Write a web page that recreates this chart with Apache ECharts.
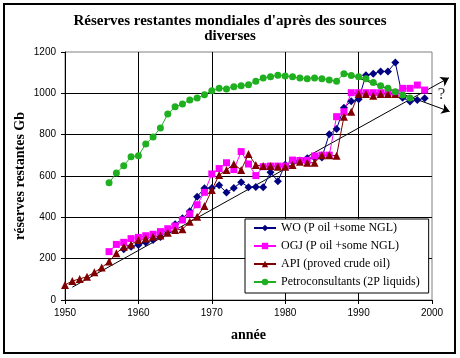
<!DOCTYPE html>
<html><head><meta charset="utf-8">
<script src="https://cdn.jsdelivr.net/npm/echarts@6/dist/echarts.min.js"></script>
<style>html,body{margin:0;padding:0;background:#fff}#c{width:460px;height:358px}</style>
</head><body><div id="c"></div>
<script>
const years = [1950,1951,1952,1953,1954,1955,1956,1957,1958,1959,
               1960,1961,1962,1963,1964,1965,1966,1967,1968,1969,
               1970,1971,1972,1973,1974,1975,1976,1977,1978,1979,
               1980,1981,1982,1983,1984,1985,1986,1987,1988,1989,
               1990,1991,1992,1993,1994,1995,1996,1997,1998,1999];
const woValues = [null,null,null,null,null,null,null,null,
  245,258,266,278,290,305,330,366,395,430,
  500,541,542,555,520,542,570,546,547,546,
  618,575,655,670,675,686,688,690,802,828,
  930,962,971,1088,1095,1106,1106,1149,979,960,
  968,976];
const ogjValues = [null,null,null,null,null,null,
  234,269,279,297,303,311,318,331,345,358,
  387,417,461,521,610,636,664,631,718,658,
  602,645,648,648,648,677,675,676,697,701,
  701,887,911,1003,1003,1003,1003,1003,1003,1003,
  1024,1024,1040,1016];
const apiValues = [73,92,102,113,134,157,186,226,258,269,
  290,298,306,312,326,339,342,379,403,455,
  532,605,629,658,629,706,653,648,648,645,
  645,653,669,664,664,701,701,698,887,911,
  997,997,988,997,997,997,null,null,null,null];
const petroValues = [null,null,null,null,null,null,
  567,614,650,693,698,755,789,832,900,935,
  948,968,977,993,1013,1025,1021,1032,1037,1042,
  1059,1074,1080,1088,1084,1080,1074,1071,1074,1071,
  1064,1059,1095,1086,1080,1070,1053,1037,1024,1008,
  992,978,null,null];
const seriesNames = ['WO (P oil +some NGL)','OGJ (P oil +some NGL)','API (proved crude oil)','Petroconsultants (2P liquids)'];
const trendUp = [[1951, 62], [2002.3, 1075]];
const trendDown = [[1988, 1100], [2002.4, 912]];
const questionMark = [[2001.3, 992]];
const xTicks = [1950, 2000, 10];
const yTicks = [0, 1200, 200];

function pairs(vals){ const out=[]; years.forEach((y,i)=>{ if(vals[i]!=null) out.push([y, vals[i]]); }); return out; }

const serif = 'Liberation Serif';
const sans = 'Liberation Sans';
const chart = echarts.init(document.getElementById('c'), null, {renderer:'canvas'});

function lineSeries(name, vals, color, symbol, size){
  return {name:name, type:'line', data:pairs(vals), symbol:symbol, symbolSize:size,
    showAllSymbol:true, lineStyle:{color:color, width:1}, itemStyle:{color:color},
    animation:false};
}

chart.setOption({
  animation:false,
  backgroundColor:'#fff',
  title:{text:"Réserves restantes mondiales d'après des sources\ndiverses", left:'center', top:14, padding:0,
    textStyle:{fontFamily:serif, fontWeight:'bold', fontSize:15, lineHeight:15, color:'#000'}},
  grid:{left:65, right:28, top:52, bottom:58, show:true, borderColor:'#808080', borderWidth:1, backgroundColor:'transparent', containLabel:false, outerBoundsMode:'none'},
  legend:{orient:'vertical', left:245, top:219, data:seriesNames, backgroundColor:'#fff', borderColor:'#000', borderWidth:1,
    padding:[2,9,4,8], itemGap:4, itemWidth:22, itemHeight:8,
    textStyle:{fontFamily:serif, fontSize:12, lineHeight:14, color:'#000'}},
  xAxis:{type:'value', min:xTicks[0], max:xTicks[1], interval:xTicks[2], name:'année', nameLocation:'middle', nameGap:28, nameMoveOverlap:false,
    nameTextStyle:{fontFamily:serif, fontWeight:'bold', fontSize:14, color:'#000'},
    axisLine:{show:true, lineStyle:{color:'#000', width:1}},
    axisTick:{show:true, length:4, lineStyle:{color:'#000'}},
    axisLabel:{fontFamily:sans, fontSize:10, color:'#000', margin:8, formatter:(v)=>String(v)},
    splitLine:{show:true, showMinLine:false, showMaxLine:false, lineStyle:{color:'#000', width:1}}},
  yAxis:{type:'value', min:yTicks[0], max:yTicks[1], interval:yTicks[2], name:'réserves restantes Gb', nameLocation:'middle', nameGap:38, nameMoveOverlap:false,
    nameTextStyle:{fontFamily:serif, fontWeight:'bold', fontSize:14, color:'#000'},
    axisLine:{show:true, lineStyle:{color:'#000', width:1}},
    axisTick:{show:true, length:4, lineStyle:{color:'#000'}},
    axisLabel:{fontFamily:sans, fontSize:10, color:'#000', margin:9, formatter:(v)=>String(v)},
    splitLine:{show:true, showMinLine:false, showMaxLine:false, lineStyle:{color:'#000', width:1}}},
  graphic:[{type:'rect', shape:{x:4, y:4, width:451, height:349}, style:{fill:'none', stroke:'#000', lineWidth:2}, silent:true, z:100}],
  series:[
    {type:'lines', coordinateSystem:'cartesian2d', clip:false, silent:true, symbol:['none','arrow'], symbolSize:8,
      lineStyle:{color:'#000', width:1, opacity:1}, data:[{coords:trendUp},{coords:trendDown}], animation:false},
    lineSeries(seriesNames[0], woValues, '#000080', 'diamond', 8),
    lineSeries(seriesNames[1], ogjValues, '#ff00ff', 'rect', 7),
    lineSeries(seriesNames[2], apiValues, '#800000', 'triangle', 8),
    lineSeries(seriesNames[3], petroValues, '#1fb01f', 'circle', 7),
    {type:'scatter', data:questionMark, symbolSize:0, clip:false, silent:true, itemStyle:{color:'rgba(0,0,0,0)'},
      label:{show:true, formatter:'?', position:'inside', fontFamily:serif, fontSize:17, color:'#000'}, animation:false}
  ]
});
</script></body></html>
